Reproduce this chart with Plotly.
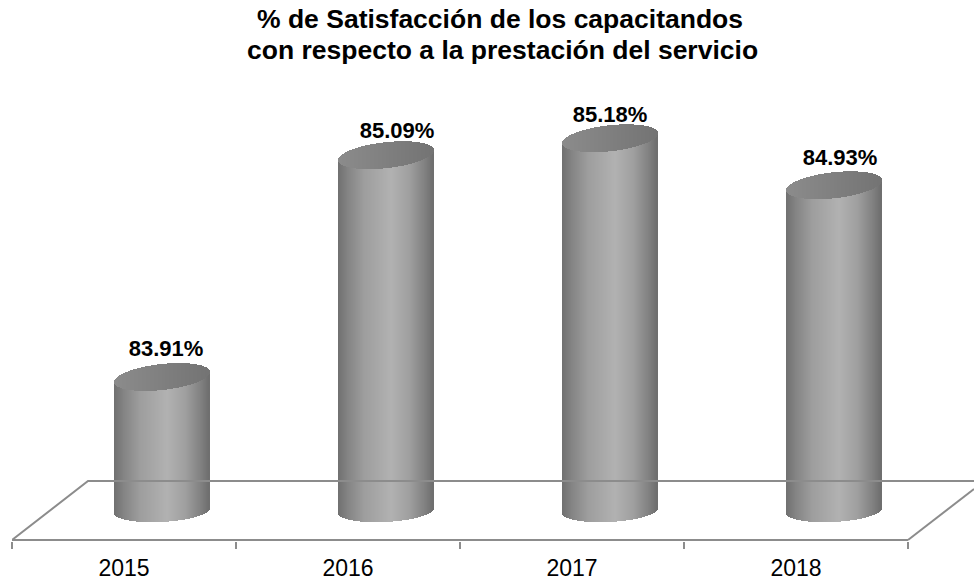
import numpy as np
import plotly.graph_objects as go

categories = ["2015", "2016", "2017", "2018"]
values = [83.91, 85.09, 85.18, 84.93]
value_labels = ["83.91%", "85.09%", "85.18%", "84.93%"]
title_lines = ["% de Satisfacción de los capacitandos", "con respecto a la prestación del servicio"]

W, H = 974, 582
ML, MT, MB = 12, 0, 41
PX_PER_X = 224.0
PX_PER_V = 188.0
V_TOP = 83.91 + 377 / PX_PER_V
V_BOT = V_TOP - (H - MB - MT) / PX_PER_V
V_FRONT = V_BOT + 1 / PX_PER_V
BASE_V = 83.2
X_MAX = -0.5 + (W - ML) / PX_PER_X
DEPTH_X = 38 / PX_PER_X

half_w = 47.5 / PX_PER_X
top_h, top_tilt = 13.0 / PX_PER_V, 5.0 / PX_PER_V
bot_h, bot_tilt = 11.5 / PX_PER_V, 2.5 / PX_PER_V


def side_color(t):
    pts_t = [-1, -0.8, -0.45, 0.12, 0.5, 0.8, 1]
    pts_c = [112, 132, 158, 178, 160, 132, 110]
    g = int(np.interp(t, pts_t, pts_c))
    return f"rgb({g},{g},{g})"


def top_color(t):
    g = int(np.interp(t, [-1, 0, 1], [140, 128, 116]))
    return f"rgb({g},{g},{g})"


n = 95
ts = (np.arange(n) + 0.5) / n * 2 - 1
xs, bases, heights, cols = [], [], [], []
txs, tbases, theights, tcols = [], [], [], []
for i, v in enumerate(values):
    for t in ts:
        arc = np.sqrt(1 - t * t)
        xx = i + DEPTH_X + t * half_w
        low = BASE_V + bot_tilt * t - bot_h * arc
        mid_up = v + top_tilt * t - top_h * arc
        up = v + top_tilt * t + top_h * arc
        xs.append(xx); bases.append(low); heights.append(mid_up - low); cols.append(side_color(t))
        txs.append(xx); tbases.append(mid_up); theights.append(up - mid_up); tcols.append(top_color(t))

strip_w = 2 * half_w / n * 1.25

fig = go.Figure()

LINE = dict(color="#8c8c8c", width=2)
back_v = V_FRONT + 59 / PX_PER_V
# floor of the 3-D plot area, in axis units
fig.add_trace(go.Scatter(x=[3.5, -0.5, -0.5 + 76 / PX_PER_X, X_MAX],
                         y=[V_FRONT, V_FRONT, back_v, back_v], mode="lines",
                         line=LINE, hoverinfo="skip", showlegend=False))
fig.add_trace(go.Scatter(x=[3.5, X_MAX], y=[V_FRONT, V_FRONT + 51 / PX_PER_V], mode="lines",
                         line=LINE, hoverinfo="skip", showlegend=False))

fig.add_trace(go.Bar(x=xs, y=heights, base=bases, width=strip_w, marker=dict(color=cols, line=dict(width=0)),
                     showlegend=False))
fig.add_trace(go.Bar(x=txs, y=theights, base=tbases, width=strip_w, marker=dict(color=tcols, line=dict(width=0)),
                     showlegend=False))

label_dx_px = [42, 49, 38, 44]
label_dy_px = [27, 23, 22, 26]
label_x = [i + dx / PX_PER_X for i, dx in enumerate(label_dx_px)]
label_y = [v + dy / PX_PER_V for v, dy in zip(values, label_dy_px)]
fig.add_trace(go.Scatter(x=label_x, y=label_y, mode="text", text=value_labels,
                         textfont=dict(family="Liberation Sans", size=22, color="#000000", weight="bold"),
                         textposition="middle center", cliponaxis=False, showlegend=False, hoverinfo="skip"))

plot_h = H - MB - MT
plot_w = W - ML
title_annots = [
    dict(text=f"<b>{title_lines[0]}</b>", x=(500 - ML) / plot_w, y=(plot_h - 19) / plot_h),
    dict(text=f"<b>{title_lines[1]}</b>", x=(503 - ML) / plot_w, y=(plot_h - 50) / plot_h),
]
for a in title_annots:
    a.update(xref="paper", yref="paper", showarrow=False, xanchor="center", yanchor="middle",
             font=dict(family="Liberation Sans, Arial", size=26.5, color="#000000"))

fig.update_layout(
    width=W, height=H,
    autosize=False,
    margin=dict(l=ML, r=0, t=MT, b=MB, pad=0),
    paper_bgcolor="white", plot_bgcolor="white",
    barmode="overlay", bargap=0,
    showlegend=False,
    annotations=title_annots,
    xaxis=dict(range=[-0.5, X_MAX], tickvals=[0, 1, 2, 3], ticktext=categories, ticks="", showgrid=False,
               zeroline=False, showline=False,
               tickfont=dict(family="Liberation Sans, Arial", size=23, color="#000000"),
               ticklabelstandoff=11,
               minor=dict(tickvals=[-0.5, 0.5, 1.5, 2.5, 3.5], ticks="outside", ticklen=7, tickwidth=2,
                          tickcolor="#8c8c8c", showgrid=False)),
    yaxis=dict(range=[V_BOT, V_TOP], visible=False),
)

fig.write_html("out.html", config={"displayModeBar": False}, post_script="document.body.style.margin='0';")
